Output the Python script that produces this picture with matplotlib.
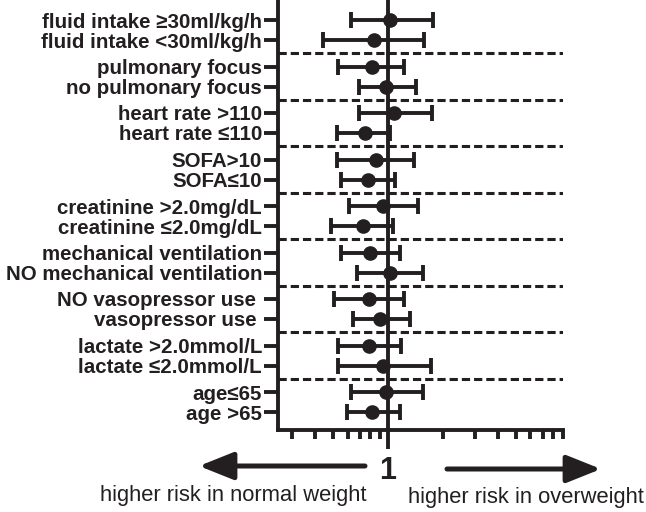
import numpy as np
import matplotlib
matplotlib.use('Agg')
import matplotlib.pyplot as plt
from matplotlib.ticker import FixedLocator, NullFormatter

plt.rcParams['font.family'] = ['Liberation Sans', 'DejaVu Sans']

labels = ['fluid intake \u226530ml/kg/h', 'fluid intake <30ml/kg/h',
          'pulmonary focus', 'no pulmonary focus',
          'heart rate >110', 'heart rate \u2264110',
          'SOFA>10', 'SOFA\u226410',
          'creatinine >2.0mg/dL', 'creatinine \u22642.0mg/dL',
          'mechanical ventilation', 'NO mechanical ventilation',
          'NO vasopressor use ', 'vasopressor use ',
          'lactate >2.0mmol/L', 'lactate \u22642.0mmol/L',
          'age\u226465', 'age >65']
hr = [1.03, 0.84, 0.815, 0.98, 1.08, 0.75, 0.857, 0.78, 0.94,
      0.727, 0.80, 1.03, 0.79, 0.90, 0.79, 0.94, 0.98, 0.815]
lo = [0.63, 0.44, 0.535, 0.69, 0.69, 0.525, 0.525, 0.55, 0.615,
      0.49, 0.55, 0.674, 0.507, 0.64, 0.535, 0.535, 0.628, 0.594]
hi = [1.75, 1.57, 1.22, 1.42, 1.73, 1.03, 1.39, 1.09, 1.45,
      1.07, 1.16, 1.55, 1.22, 1.31, 1.17, 1.71, 1.56, 1.16]

hr = np.array(hr)
lo = np.array(lo)
hi = np.array(hi)
col = '#231f20'

gap = 2.325
ys = np.array([(i // 2) * gap + (i % 2) for i in range(len(labels))])

fig = plt.figure(figsize=(6.46, 5.12), dpi=100)
ax = fig.add_axes([278 / 646, 82 / 512, 285 / 646, 430 / 512])

ax.set_xscale('log')
ax.set_xlim(0.25, 9.05)
ax.set_ylim(ys[-1] + 0.9, -1)

# dashed separators between groups
for g in range(1, 9):
    ax.axhline((g - 1) * gap + 1 + (gap - 1) / 2, color=col, lw=2.2,
               ls=(0, (2.7, 1.3)), zorder=1)

ax.axvline(1, color=col, lw=2.8, zorder=2)

ax.errorbar(hr, ys, xerr=[hr - lo, hi - hr], fmt='o', color=col,
            ms=9.5, capsize=5.5, capthick=2.8, elinewidth=2.8, zorder=3)

for s in ['top', 'right']:
    ax.spines[s].set_visible(False)
for s in ['left', 'bottom']:
    ax.spines[s].set_linewidth(2.8)
    ax.spines[s].set_color(col)

ax.set_yticks(ys)
ax.set_yticklabels(labels, fontsize=14.8, fontweight='bold', color=col)
ax.tick_params(axis='y', length=10, width=2.8, color=col, pad=1.5)

ax.xaxis.set_major_locator(FixedLocator([1]))
ax.xaxis.set_minor_locator(FixedLocator([0.3, 0.4, 0.5, 0.6, 0.7, 0.8, 0.9,
                                         2, 3, 4, 5, 6, 7, 8, 9]))
ax.xaxis.set_minor_formatter(NullFormatter())
ax.set_xticklabels(['1'], fontsize=22, fontweight='bold', color=col)
ax.tick_params(axis='x', which='major', length=14, width=2.8, color=col, pad=5)
ax.tick_params(axis='x', which='minor', length=6.5, width=2.8, color=col)

# direction arrows
astyle = '-|>,head_length=1.05,head_width=0.42'
ax.annotate('', xy=(199 / 646, 1 - 466 / 512), xytext=(365 / 646, 1 - 466 / 512),
            xycoords='figure fraction',
            arrowprops=dict(arrowstyle=astyle, lw=3.6, color=col,
                            mutation_scale=20, capstyle='round',
                            shrinkA=0, shrinkB=0))
ax.annotate('', xy=(601 / 646, 1 - 469 / 512), xytext=(447 / 646, 1 - 469 / 512),
            xycoords='figure fraction',
            arrowprops=dict(arrowstyle=astyle, lw=3.6, color=col,
                            mutation_scale=20, capstyle='round',
                            shrinkA=0, shrinkB=0))

fig.text(367 / 646, 1 - 496 / 512, 'higher risk in normal weight', ha='right',
         va='center', fontsize=15.8, color=col)
fig.text(408 / 646, 1 - 497 / 512, 'higher risk in overweight', ha='left',
         va='center', fontsize=15.8, color=col)

fig.savefig('out.png', dpi=100)
